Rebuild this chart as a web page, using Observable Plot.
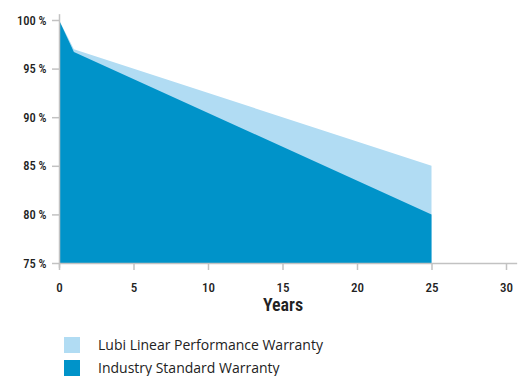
<!DOCTYPE html>
<html>
<head>
<meta charset="utf-8">
<script src="https://cdn.jsdelivr.net/npm/d3@7"></script>
<script src="https://cdn.jsdelivr.net/npm/@observablehq/plot@0.6"></script>
<style>
  body { margin: 0; background: #fff; }
  #chart { width: 523px; }
  #chart svg text { font-family: Roboto, sans-serif; font-stretch: 75%; }
  .legend { margin-top: 13px; font-family: "Open Sans", "Noto Sans", sans-serif; font-size: 14px; color: #222; }
  .legend .item { display: flex; align-items: center; height: 23px; }
  .legend .sw { width: 16px; height: 16px; margin-left: 64px; margin-right: 18px; }
</style>
</head>
<body>
<div id="chart"></div>
<script>
const years = [0, 1, 25];
const lubiValues = [100, 97.0, 85.0];
const industryValues = [100, 96.7, 80.0];
const seriesNames = ["Lubi Linear Performance Warranty", "Industry Standard Warranty"];
const seriesColors = ["#b1dcf3", "#0093c9"];
const xTicks = [0, 5, 10, 15, 20, 25, 30];
const yTicks = [75, 80, 85, 90, 95, 100];

const lubi = years.map((x, i) => ({x, y: lubiValues[i]}));
const industry = years.map((x, i) => ({x, y: industryValues[i]}));

const plot = Plot.plot({
  width: 523,
  height: 320,
  marginLeft: 59,
  marginRight: 17,
  marginTop: 20,
  marginBottom: 57,
  style: {fontFamily: "Roboto, sans-serif", fontSize: "12.5px", color: "#222", fontWeight: "500"},
  x: {domain: [0, 30], ticks: xTicks, label: null},
  y: {domain: [75, 100], ticks: yTicks, label: null},
  marks: [
    Plot.areaY(lubi, {x: "x", y1: 75, y2: "y", fill: seriesColors[0], curve: "linear"}),
    Plot.areaY(industry, {x: "x", y1: 75, y2: "y", fill: seriesColors[1], curve: "linear"}),
    Plot.ruleY([75], {x1: 0, x2: 30.75, stroke: "#c2c2c2", strokeWidth: 1.5}),
    Plot.ruleX([0], {y1: 74.5, y2: 100.6, stroke: "#c2c2c2", strokeWidth: 1.5}),
    Plot.axisX({ticks: xTicks, tickSize: 7, tickPadding: 12, stroke: "#c2c2c2", strokeWidth: 1.5, label: null, fontSize: 13}),
    Plot.axisY({ticks: yTicks, tickSize: 7, tickPadding: 6, stroke: "#c2c2c2", strokeWidth: 1.5, label: null, tickFormat: d => d + " %", fontSize: 12.5}),
    Plot.text(["Years"], {frameAnchor: "bottom", dy: 47, fontSize: 18, fontWeight: "600", fill: "#222"})
  ]
});
document.getElementById("chart").appendChild(plot);

const legend = document.createElement("div");
legend.className = "legend";
seriesNames.forEach((name, i) => {
  const item = document.createElement("div");
  item.className = "item";
  const sw = document.createElement("span");
  sw.className = "sw";
  sw.style.background = seriesColors[i];
  const t = document.createElement("span");
  t.textContent = name;
  item.appendChild(sw);
  item.appendChild(t);
  legend.appendChild(item);
});
document.body.appendChild(legend);
</script>
</body>
</html>
